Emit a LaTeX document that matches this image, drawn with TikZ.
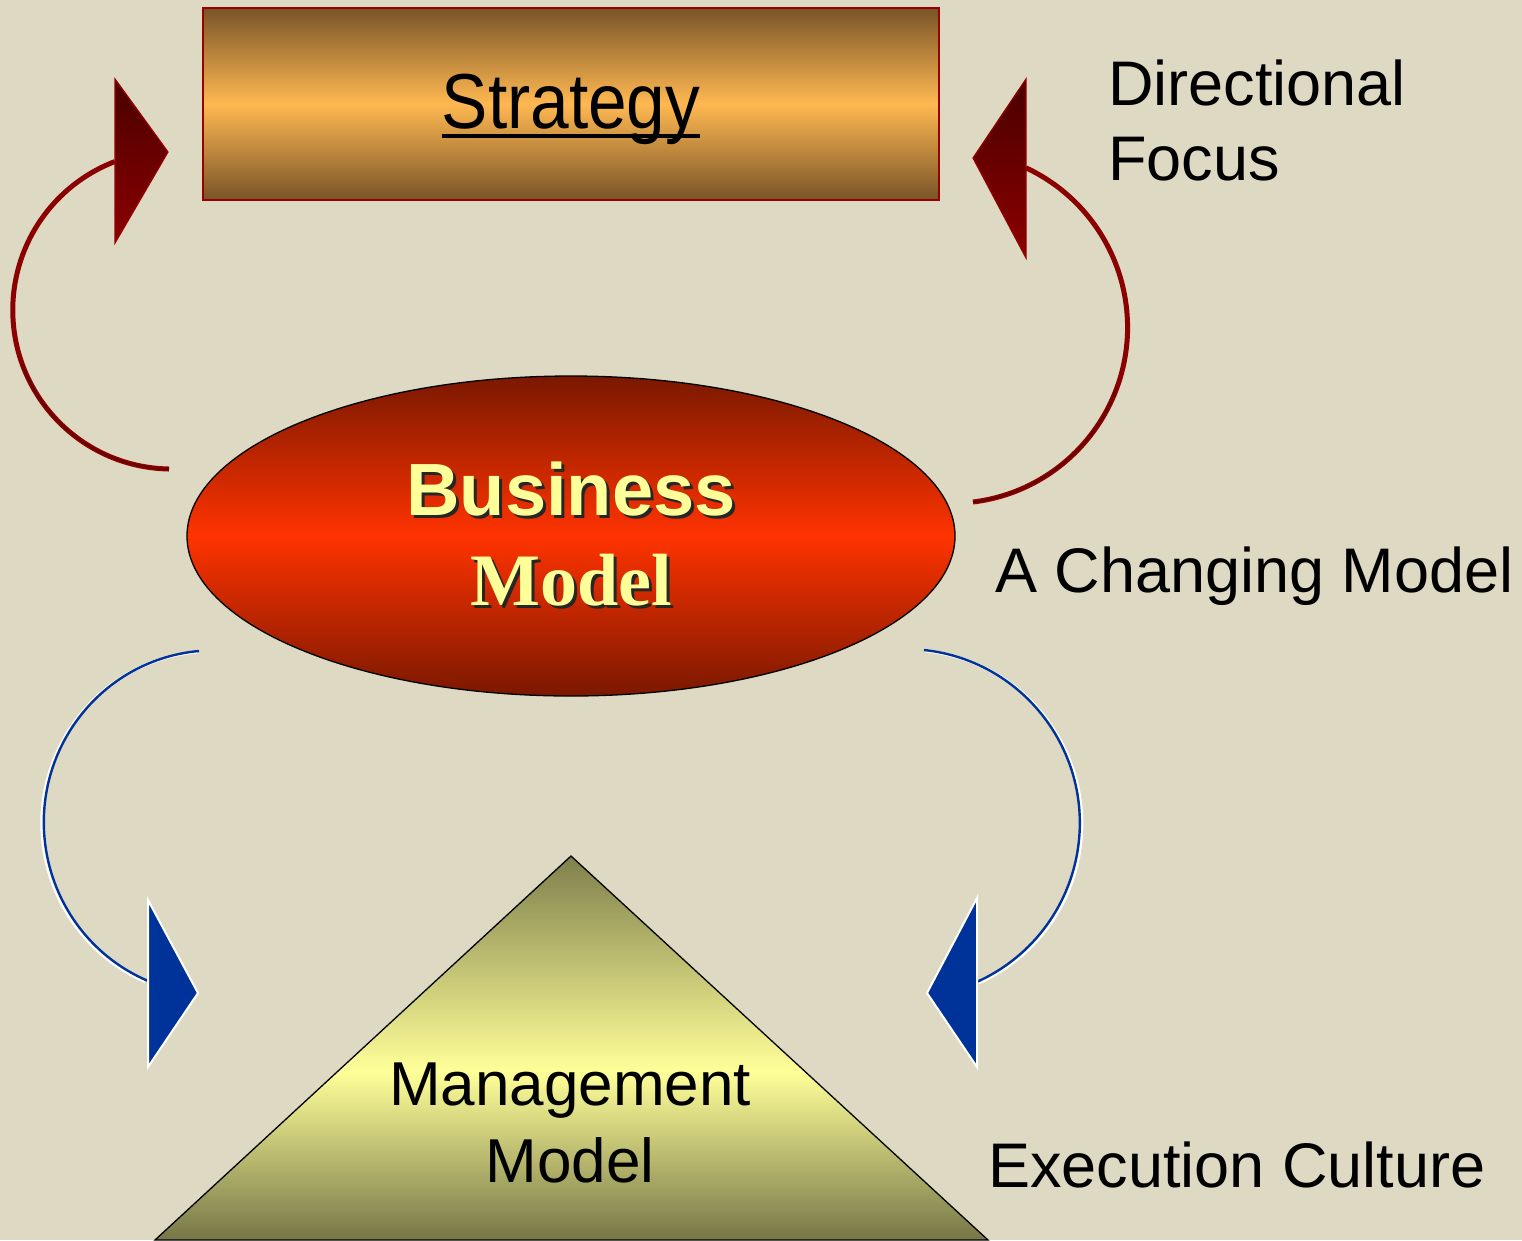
\documentclass[tikz,border=0pt]{standalone}
\usepackage{fontspec}
\setmainfont{Liberation Sans}
\newfontfamily\narrowsans[FakeStretch=0.89]{Liberation Sans}
\newfontfamily\titleserif{Liberation Serif}
\usetikzlibrary{shapes.geometric}

\definecolor{bg}{RGB}{222,217,195}
\definecolor{stratedge}{RGB}{120,84,40}
\definecolor{stratmid}{RGB}{255,184,81}
\definecolor{stratborder}{RGB}{153,0,0}
\definecolor{bmedge}{RGB}{122,24,0}
\definecolor{bmmid}{RGB}{255,51,0}
\definecolor{mmtop}{RGB}{127,127,76}
\definecolor{mmbot}{RGB}{118,118,72}
\definecolor{mmmid}{RGB}{255,255,153}
\definecolor{arcred}{RGB}{139,0,0}
\definecolor{arccore}{RGB}{100,0,0}
\definecolor{headdark}{RGB}{74,0,0}
\definecolor{headred}{RGB}{140,0,0}
\definecolor{arrowblue}{RGB}{0,51,153}
\definecolor{labelyellow}{RGB}{255,255,153}

% pyramid shading: light band below the middle of the triangle
\pgfdeclareverticalshading{pyramid}{100bp}{%
  color(0bp)=(mmbot); color(25bp)=(mmbot); color(47bp)=(mmmid);
  color(75bp)=(mmtop); color(100bp)=(mmtop)}

\tikzset{
  label text/.style={font=\fontsize{63}{70}\selectfont, text=black, anchor=base west, inner sep=0pt},
  redarc/.style={draw=arcred, line width=5pt},
  redcore/.style={draw=arccore, line width=1.6pt},
  redhead/.style={draw=stratborder, line width=1.2pt, top color=headdark, bottom color=headred},
  bluearc/.style={draw=arrowblue, line width=2.4pt},
  bluehalo/.style={draw=white, line width=3pt},
  bluehead/.style={fill=arrowblue, draw=white, line width=2pt, line join=miter},
}

\begin{document}
\begin{tikzpicture}[x=1pt, y=-1pt]
  \useasboundingbox (0,0) rectangle (1522,1240);
  \fill[bg] (0,0) rectangle (1522,1240);

  % Strategy box
  \node[draw=stratborder, line width=2pt, top color=stratedge, bottom color=stratedge,
        middle color=stratmid, minimum width=736pt, minimum height=192pt, inner sep=0pt]
        (strategy) at (571,104) {};
  \node[font=\narrowsans\fontsize{78}{90}\selectfont, anchor=base, inner sep=0pt]
        (strattext) at (571,128) {Strategy};
  \draw[line width=4pt] ([yshift=-8pt]strattext.base west) -- ([yshift=-8pt]strattext.base east);

  % Business model ellipse
  \node[ellipse, draw=black, line width=1.3pt, minimum width=768pt, minimum height=320pt,
        top color=bmedge, bottom color=bmedge, middle color=bmmid, inner sep=0pt]
        (bm) at (571,536) {};
  \node[font=\bfseries\fontsize{74}{80}\selectfont, anchor=base, text=black!85, inner sep=0pt]
        at (574,518) {Business};
  \node[font=\bfseries\fontsize{74}{80}\selectfont, anchor=base, text=labelyellow, inner sep=0pt]
        (bmtop) at (571,515) {Business};
  \node[font=\titleserif\bfseries\fontsize{74}{80}\selectfont, anchor=base, text=black!85, inner sep=0pt]
        at (574,608) {Model};
  \node[font=\titleserif\bfseries\fontsize{74}{80}\selectfont, anchor=base, text=labelyellow, inner sep=0pt]
        (bmbot) at (571,605) {Model};

  % Management model pyramid
  \coordinate (apex) at (571,856);
  \coordinate (baseR) at (988,1240);
  \coordinate (baseL) at (155,1240);
  \shadedraw[shading=pyramid, draw=black, line width=1.3pt, line join=miter]
        (apex) -- (baseR) -- (baseL) -- cycle;
  \node[font=\fontsize{62}{70}\selectfont, anchor=base, inner sep=0pt]
        (mm1) at (570,1105) {Management};
  \node[font=\fontsize{62}{70}\selectfont, anchor=base, inner sep=0pt]
        (mm2) at (570,1182) {Model};

  % Side labels
  \node[label text] (dir1) at (1108,105) {Directional};
  \node[label text] (dir2) at (1108,180) {Focus};
  \node[label text] (chg) at (995,592) {A Changing Model};
  \node[label text] (exe) at (988,1187) {Execution Culture};

  % Feedback arcs from the business model up to the strategy
  \coordinate (rlS) at (169,469);
  \draw[redarc] (rlS) arc[start angle=91, end angle=249, radius=159];
  \draw[redcore] (rlS) arc[start angle=91, end angle=160, radius=159];
  \draw[redhead] (115,79) -- (168,152) -- (115,243) -- cycle;

  \coordinate (rrS) at (973,502);
  \draw[redarc] (rrS) arc[start angle=83, end angle=-65, radius=176];
  \draw[redcore] (rrS) arc[start angle=83, end angle=20, radius=176];
  \draw[redhead] (1026,79) -- (973,158) -- (1026,258) -- cycle;

  % Arcs from the business model down to the management model
  \coordinate (blS) at (199,651);
  \draw[bluehalo] ([xshift=-2pt,yshift=-1pt]blS) arc[start angle=265, end angle=113, x radius=170, y radius=172];
  \draw[bluearc] (blS) arc[start angle=265, end angle=113, x radius=170, y radius=172];
  \draw[bluehead] (148,900) -- (198,993) -- (148,1067) -- cycle;

  \coordinate (brS) at (924,650);
  \draw[bluehalo] ([xshift=2pt,yshift=-1pt]brS) arc[start angle=-84, end angle=66, radius=174];
  \draw[bluearc] (brS) arc[start angle=-84, end angle=66, radius=174];
  \draw[bluehead] (977,898) -- (927,993) -- (977,1067) -- cycle;
\end{tikzpicture}
\end{document}
